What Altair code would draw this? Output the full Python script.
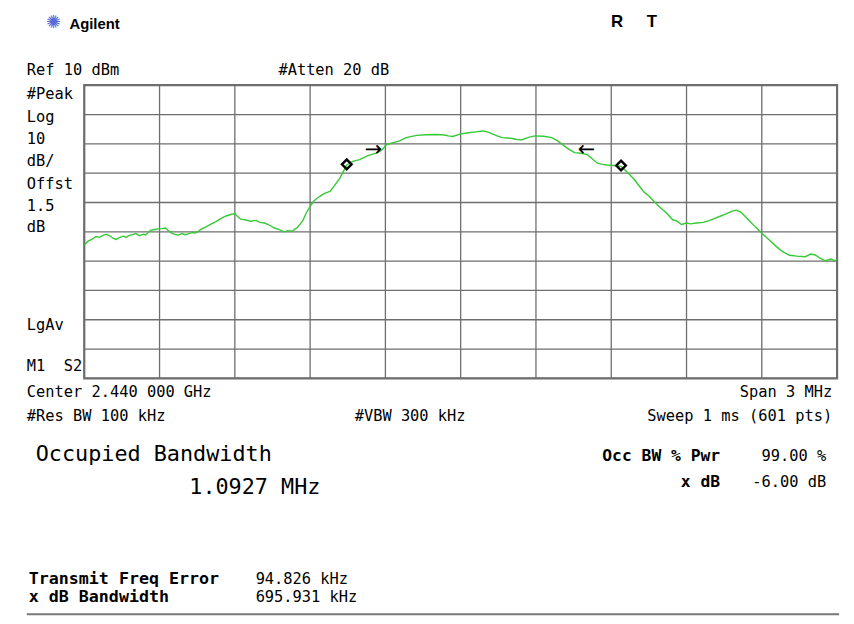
import altair as alt
import pandas as pd

# ---------------- data ----------------
# frequency offset from centre (kHz) and level (dBm)
freq_khz = [-1500, -1485, -1470, -1453, -1440, -1425, -1413, -1400, -1385, -1374,
            -1360, -1345, -1334, -1320, -1305, -1295, -1280, -1265, -1255, -1245,
            -1236, -1220, -1204, -1190, -1176, -1165, -1153, -1140, -1125, -1110,
            -1098, -1086, -1070, -1058, -1045, -1034, -1015, -995, -975, -955,
            -935, -916, -900, -888, -876, -860, -837, -815, -800, -782,
            -765, -742, -725, -703, -690, -671, -660, -651, -640, -628,
            -615, -600, -585, -570, -561, -545, -521, -505, -482, -470,
            -454, -430, -403, -370, -336, -315, -296, -270, -245, -220,
            -205, -175, -138, -100, -71, -50, -32, 0, 31, 60,
            87, 110, 126, 145, 166, 200, 225, 245, 270, 296,
            330, 363, 385, 402, 430, 454, 480, 505, 525, 545,
            565, 584, 610, 639, 665, 691, 710, 730, 750, 770,
            797, 820, 845, 860, 880, 900, 916, 940, 967, 990,
            1010, 1034, 1060, 1080, 1097, 1115, 1135, 1152, 1175, 1204,
            1230, 1255, 1280, 1310, 1340, 1373, 1395, 1413, 1430, 1452,
            1475, 1490, 1500]
level_dbm = [-44.5, -43.2, -42.6, -41.6, -41.9, -41.2, -40.8, -41.3, -42.2, -42.6,
             -42.0, -41.5, -41.9, -41.2, -40.9, -40.6, -41.3, -40.8, -41.1, -40.2,
             -39.5, -39.2, -39.0, -38.9, -38.7, -39.6, -40.4, -40.9, -41.1, -40.6,
             -41.0, -40.7, -40.3, -40.4, -39.8, -39.1, -38.3, -37.4, -36.5, -35.4,
             -34.6, -34.1, -33.8, -34.9, -35.7, -35.9, -36.4, -36.1, -36.8, -37.0,
             -37.6, -38.7, -39.2, -40.0, -39.6, -39.8, -39.0, -38.6, -37.4, -36.0,
             -33.5, -31.3, -29.5, -28.4, -27.9, -27.0, -26.2, -24.5, -21.8, -19.8,
             -17.2, -16.0, -15.4, -14.0, -13.2, -12.2, -10.3, -9.6, -9.1, -8.0,
             -7.6, -7.1, -6.9, -6.8, -6.9, -7.3, -7.5, -6.6, -6.2, -5.9,
             -5.6, -6.0, -6.6, -7.3, -7.9, -8.1, -8.5, -8.6, -7.8, -7.3,
             -7.4, -7.9, -8.9, -10.0, -11.8, -13.0, -13.2, -13.7, -15.2, -16.6,
             -17.0, -17.2, -17.4, -17.7, -19.8, -22.1, -24.2, -26.4, -27.8, -29.6,
             -31.9, -33.6, -35.9, -36.3, -37.5, -37.0, -37.3, -37.0, -36.8, -36.2,
             -35.5, -34.7, -33.8, -33.0, -32.6, -33.2, -34.9, -36.4, -38.4, -40.8,
             -42.8, -44.8, -46.6, -48.0, -48.3, -48.5, -47.6, -47.9, -48.9, -49.9,
             -49.3, -49.8, -49.5]

marker_khz = [-454, 639]
marker_dbm = [-17.0, -17.4]
arrow_khz = [-348, 501]
arrow_dbm = [-12.0, -12.0]
arrow_glyph = ["\u2192", "\u2190"]

x_ticks = list(range(-1500, 1501, 300))
y_ticks = list(range(-90, 11, 10))
x_domain = [-1500, 1500]
y_domain = [-90, 10]

# ---------------- chart ----------------
MONO = "DejaVu Sans Mono"
SANS = "Liberation Sans"
OX, OY = 85, 83  # plot-area origin on the page

trace_df = pd.DataFrame({"f": freq_khz, "p": level_dbm})
mark_df = pd.DataFrame({"f": marker_khz, "p": marker_dbm})
arrow_df = pd.DataFrame({"f": arrow_khz, "p": arrow_dbm, "g": arrow_glyph})
xgrid_df = pd.DataFrame({"f": x_ticks})
ygrid_df = pd.DataFrame({"p": y_ticks})

xs = alt.Scale(domain=x_domain, nice=False, zero=False)
ys = alt.Scale(domain=y_domain, nice=False, zero=False)
GRID = "#6e6e6e"

vgrid = alt.Chart(xgrid_df).mark_rule(color=GRID, strokeWidth=1.3).encode(
    x=alt.X("f:Q", scale=xs, axis=None)
)
hgrid = alt.Chart(ygrid_df).mark_rule(color=GRID, strokeWidth=1.3).encode(
    y=alt.Y("p:Q", scale=ys, axis=None)
)
trace = alt.Chart(trace_df).mark_line(color="#35c935", strokeWidth=1.4).encode(
    x=alt.X("f:Q", scale=xs, axis=None),
    y=alt.Y("p:Q", scale=ys, axis=None),
)
markers = alt.Chart(mark_df).mark_point(
    shape="diamond", size=95, filled=False, color="black", strokeWidth=2.4, opacity=1
).encode(x=alt.X("f:Q", scale=xs), y=alt.Y("p:Q", scale=ys))
arrows = alt.Chart(arrow_df).mark_text(font="DejaVu Sans", fontSize=21, color="black").encode(
    x=alt.X("f:Q", scale=xs), y=alt.Y("p:Q", scale=ys), text="g:N"
)


def label(text, x, y, size=15.5, weight="normal", align="left", font=MONO, color="black"):
    return alt.Chart(alt.Data(values=[{}])).mark_text(
        text=text, font=font, fontSize=size, fontWeight=weight, align=align,
        baseline="middle", color=color
    ).encode(x=alt.value(x - OX), y=alt.value(y - OY))


labels = [
    label("\u273A", 54, 20, size=18, font="DejaVu Sans", align="center", color="#5a6ad8"),
    label("Agilent", 70, 21, size=15, weight="bold", font=SANS),
    label("R", 623, 19, size=17, weight="bold", font=SANS, align="center"),
    label("T", 658, 19, size=17, weight="bold", font=SANS, align="center"),
    label("Ref 10 dBm", 27, 68),
    label("#Atten 20 dB", 281, 68),
    label("#Peak", 27, 92),
    label("Log", 27, 115),
    label("10", 27, 137),
    label("dB/", 27, 160),
    label("Offst", 27, 183),
    label("1.5", 27, 205),
    label("dB", 27, 226),
    label("LgAv", 27, 325),
    label("M1\u00a0\u00a0S2", 27, 367),
    label("Center 2.440 000 GHz", 27, 393),
    label("#Res BW 100 kHz", 27, 417),
    label("#VBW 300 kHz", 358, 417),
    label("Span 3 MHz", 840, 393, align="right"),
    label("Sweep 1 ms (601 pts)", 840, 417, align="right"),
    label("Occupied Bandwidth", 36, 455, size=22),
    label("1.0927 MHz", 191, 489, size=22),
    label("Occ BW % Pwr", 727, 457, size=16.5, weight="bold", align="right"),
    label("99.00 %", 834, 457, align="right"),
    label("x dB", 727, 484, size=16.5, weight="bold", align="right"),
    label("-6.00 dB", 834, 484, align="right"),
    label("Transmit Freq Error", 29, 582, size=16.8, weight="bold"),
    label("x dB Bandwidth", 29, 600, size=16.8, weight="bold"),
    label("94.826 kHz", 258, 582),
    label("695.931 kHz", 258, 600),
]

bottom_rule = alt.Chart(alt.Data(values=[{}])).mark_rule(color="#777777", strokeWidth=2).encode(
    x=alt.value(27 - OX), x2=alt.value(847 - OX), y=alt.value(617 - OY)
)

chart = alt.layer(vgrid, hgrid, trace, markers, arrows, bottom_rule, *labels).properties(
    width=760, height=296,
    autosize=alt.AutoSizeParams(type="none"),
    padding={"left": 77, "top": 75, "right": 9, "bottom": 245},
    background="white",
).configure_view(stroke="#6e6e6e", strokeWidth=2.2)

chart.save("out.html", embed_options={"renderer": "svg", "actions": False})
